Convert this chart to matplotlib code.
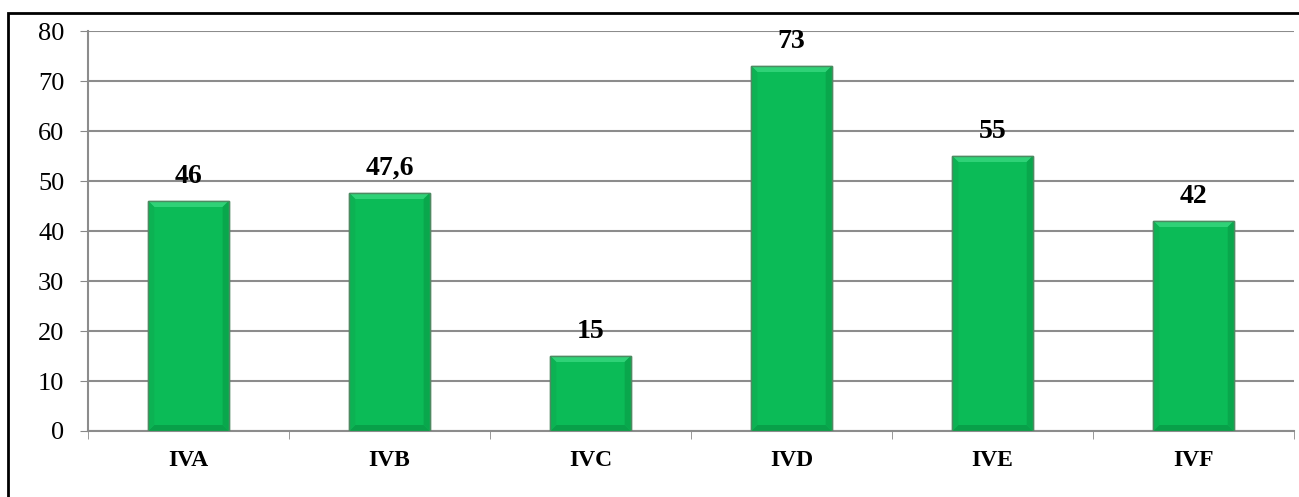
import matplotlib.pyplot as plt
import matplotlib.patches as patches
import numpy as np

categories = ["IVA", "IVB", "IVC", "IVD", "IVE", "IVF"]
values = [46, 47.6, 15, 73, 55, 42]
value_labels = ["46", "47,6", "15", "73", "55", "42"]
y_ticks = [0, 10, 20, 30, 40, 50, 60, 70, 80]

plt.rcParams["font.family"] = ["Liberation Serif", "DejaVu Serif"]

fig = plt.figure(figsize=(12.99, 4.97), dpi=100)
ax = fig.add_axes([0.0677, 0.1328, 0.9285, 0.8048])

x = np.arange(len(categories))

# soft shadow behind the bars
ax.bar(x + 0.006, values, width=0.4, color="#9a9a9a", alpha=0.55,
       linewidth=0, zorder=2)
bars = ax.bar(x, values, width=0.4, color="#0bbb57", edgecolor="#4e8a62",
              linewidth=1.0, zorder=3)

# bevel effect on each bar
bx, by = 0.03, 1.2
for b in bars:
    x0, w, h = b.get_x(), b.get_width(), b.get_height()
    x1 = x0 + w
    top = [(x0, h), (x1, h), (x1 - bx, h - by), (x0 + bx, h - by)]
    bottom = [(x0, 0), (x1, 0), (x1 - bx, by), (x0 + bx, by)]
    left = [(x0, 0), (x0, h), (x0 + bx, h - by), (x0 + bx, by)]
    right = [(x1, 0), (x1, h), (x1 - bx, h - by), (x1 - bx, by)]
    for pts, c in [(top, "#2fd277"), (bottom, "#08a049"),
                   (left, "#0cb253"), (right, "#09a74c")]:
        ax.add_patch(patches.Polygon(pts, closed=True, facecolor=c,
                                     edgecolor="none", zorder=3.5))
    ax.add_patch(patches.Rectangle((x0, 0), w, h, fill=False,
                                   edgecolor="#4e8a62", linewidth=1.0, zorder=3.6))

for xi, v, lab in zip(x, values, value_labels):
    ax.text(xi, v + 3.6, lab, ha="center", va="baseline", fontsize=20,
            fontweight="bold", zorder=4)

ax.set_xlim(-0.5, len(categories) - 0.5)
ax.set_ylim(0, 80)
ax.set_yticks(y_ticks)
ax.set_yticklabels([str(t) for t in y_ticks], fontsize=19)
ax.set_xticks(x)
ax.set_xticklabels(categories, fontsize=17, fontweight="bold")
ax.tick_params(axis="x", length=0, pad=14)
ax.tick_params(axis="y", length=6, color="#888888", pad=11)
ax.set_xticks(np.arange(-0.5, len(categories)), minor=True)
ax.tick_params(axis="x", which="minor", length=6, color="#888888", direction="out")

ax.yaxis.grid(True, color="#8c8c8c", linewidth=1.5, zorder=0)
ax.set_axisbelow(True)
for side in ["top", "right"]:
    ax.spines[side].set_visible(False)
ax.spines["left"].set_color("#8c8c8c")
ax.spines["bottom"].set_color("#8c8c8c")
ax.spines["left"].set_linewidth(1.5)
ax.spines["bottom"].set_linewidth(1.5)

# outer frame (right and bottom edges run off the image)
frame = patches.Rectangle((8 / 1299, -0.1), 1.2, 1.1 - 13 / 497,
                          transform=fig.transFigure, fill=False,
                          edgecolor="black", linewidth=2)
fig.patches.append(frame)

fig.savefig("out.png", dpi=100)
